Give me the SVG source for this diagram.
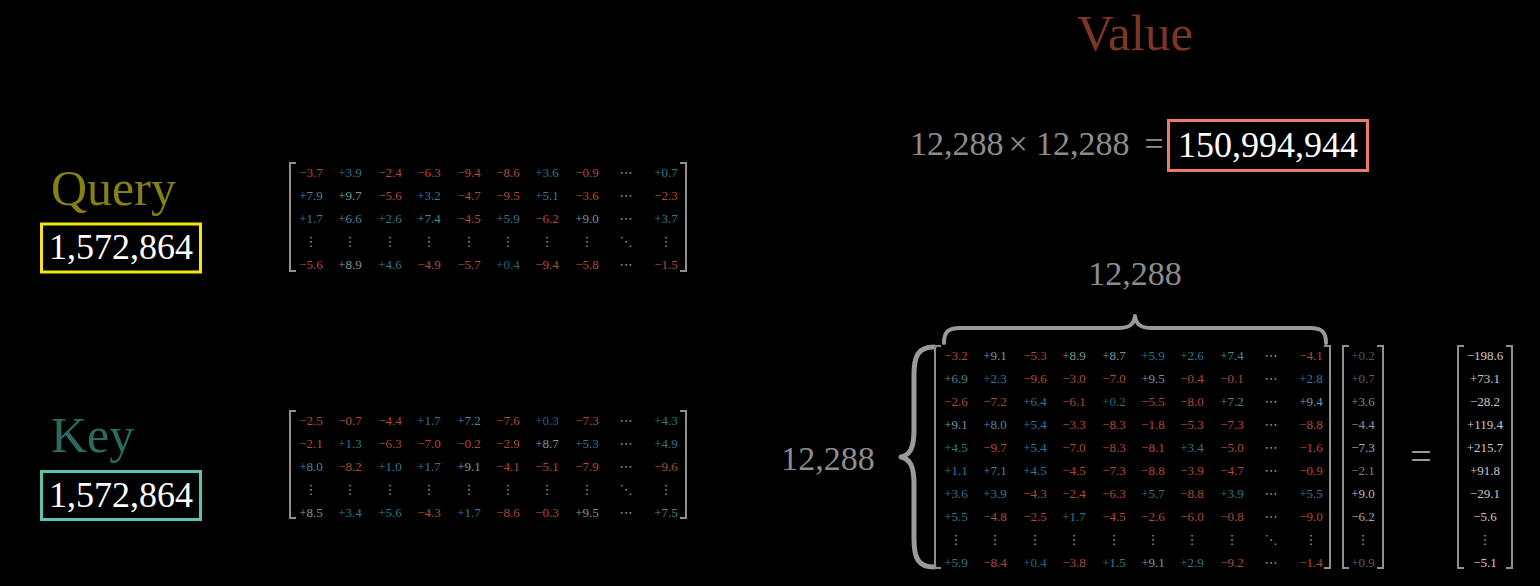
<svg xmlns="http://www.w3.org/2000/svg" width="1540" height="586" viewBox="0 0 1540 586">
<style>
text{font-family:"Liberation Serif","Times New Roman",serif}
.c text{font-size:13px;text-anchor:middle}
.n{fill:#b04a36}
.p{fill:#2d7896}
.q{fill:#4a8698}
.w{fill:#7d959c}
.d{fill:#1e6680}
.e{fill:#9a9a9a;font-family:"DejaVu Sans",sans-serif !important;font-size:15px}
.br{fill:none;stroke:#8f8f8f;stroke-width:2}
.lbl{fill:#8c8c8c;font-size:34px;text-anchor:middle}
.big{fill:#ffffff;font-size:36px;text-anchor:middle}
.eq{fill:#8c8c8c;font-size:34px}
.brace{fill:none;stroke:#9a9a9a;stroke-linecap:round;stroke-linejoin:round}
</style>
<rect width="1540" height="586" fill="#000"/>

<g id="query-label">
<text x="51" y="205" font-size="50" fill="#857f14">Query</text>
<rect x="41.5" y="224" width="159" height="48" fill="none" stroke="#f2e614" stroke-width="3"/>
<text x="121" y="259" class="big">1,572,864</text>
</g>

<g id="key-label">
<text x="51" y="452" font-size="50" fill="#2b6a5f">Key</text>
<rect x="41.5" y="471.5" width="159" height="48" fill="none" stroke="#5cc2b2" stroke-width="3"/>
<text x="121" y="507" class="big">1,572,864</text>
</g>

<g id="query-matrix" class="c">
<path class="br" d="M296,163H290V271H296"/>
<path class="br" d="M680,163H686V271H680"/>
<text x="311" y="176.5" class="n">−3.7</text><text x="350" y="176.5" class="p">+3.9</text><text x="390" y="176.5" class="n">−2.4</text><text x="429" y="176.5" class="n">−6.3</text><text x="469" y="176.5" class="n">−9.4</text><text x="508" y="176.5" class="n">−8.6</text><text x="547" y="176.5" class="p">+3.6</text><text x="587" y="176.5" class="n">−0.9</text><text x="626" y="176.5" class="e" style="text-anchor:middle">⋯</text><text x="666" y="176.5" class="p">+0.7</text>
<text x="311" y="199.5" class="q">+7.9</text><text x="350" y="199.5" class="w">+9.7</text><text x="390" y="199.5" class="n">−5.6</text><text x="429" y="199.5" class="p">+3.2</text><text x="469" y="199.5" class="n">−4.7</text><text x="508" y="199.5" class="n">−9.5</text><text x="547" y="199.5" class="p">+5.1</text><text x="587" y="199.5" class="n">−3.6</text><text x="626" y="199.5" class="e" style="text-anchor:middle">⋯</text><text x="666" y="199.5" class="n">−2.3</text>
<text x="311" y="222.5" class="p">+1.7</text><text x="350" y="222.5" class="q">+6.6</text><text x="390" y="222.5" class="p">+2.6</text><text x="429" y="222.5" class="q">+7.4</text><text x="469" y="222.5" class="n">−4.5</text><text x="508" y="222.5" class="p">+5.9</text><text x="547" y="222.5" class="n">−6.2</text><text x="587" y="222.5" class="w">+9.0</text><text x="626" y="222.5" class="e" style="text-anchor:middle">⋯</text><text x="666" y="222.5" class="p">+3.7</text>
<text x="311" y="246" class="e" style="text-anchor:middle">⋮</text><text x="350" y="246" class="e" style="text-anchor:middle">⋮</text><text x="390" y="246" class="e" style="text-anchor:middle">⋮</text><text x="429" y="246" class="e" style="text-anchor:middle">⋮</text><text x="469" y="246" class="e" style="text-anchor:middle">⋮</text><text x="508" y="246" class="e" style="text-anchor:middle">⋮</text><text x="547" y="246" class="e" style="text-anchor:middle">⋮</text><text x="587" y="246" class="e" style="text-anchor:middle">⋮</text><text x="626" y="246" class="e" style="text-anchor:middle">⋱</text><text x="666" y="246" class="e" style="text-anchor:middle">⋮</text>
<text x="311" y="268.5" class="n">−5.6</text><text x="350" y="268.5" class="w">+8.9</text><text x="390" y="268.5" class="p">+4.6</text><text x="429" y="268.5" class="n">−4.9</text><text x="469" y="268.5" class="n">−5.7</text><text x="508" y="268.5" class="d">+0.4</text><text x="547" y="268.5" class="n">−9.4</text><text x="587" y="268.5" class="n">−5.8</text><text x="626" y="268.5" class="e" style="text-anchor:middle">⋯</text><text x="666" y="268.5" class="n">−1.5</text>
</g>

<g id="key-matrix" class="c">
<path class="br" d="M296,411H290V518H296"/>
<path class="br" d="M680,411H686V518H680"/>
<text x="311" y="424.5" class="n">−2.5</text><text x="350" y="424.5" class="n">−0.7</text><text x="390" y="424.5" class="n">−4.4</text><text x="429" y="424.5" class="p">+1.7</text><text x="469" y="424.5" class="q">+7.2</text><text x="508" y="424.5" class="n">−7.6</text><text x="547" y="424.5" class="d">+0.3</text><text x="587" y="424.5" class="n">−7.3</text><text x="626" y="424.5" class="e" style="text-anchor:middle">⋯</text><text x="666" y="424.5" class="p">+4.3</text>
<text x="311" y="447.5" class="n">−2.1</text><text x="350" y="447.5" class="p">+1.3</text><text x="390" y="447.5" class="n">−6.3</text><text x="429" y="447.5" class="n">−7.0</text><text x="469" y="447.5" class="n">−0.2</text><text x="508" y="447.5" class="n">−2.9</text><text x="547" y="447.5" class="w">+8.7</text><text x="587" y="447.5" class="p">+5.3</text><text x="626" y="447.5" class="e" style="text-anchor:middle">⋯</text><text x="666" y="447.5" class="p">+4.9</text>
<text x="311" y="470.5" class="q">+8.0</text><text x="350" y="470.5" class="n">−8.2</text><text x="390" y="470.5" class="p">+1.0</text><text x="429" y="470.5" class="p">+1.7</text><text x="469" y="470.5" class="w">+9.1</text><text x="508" y="470.5" class="n">−4.1</text><text x="547" y="470.5" class="n">−5.1</text><text x="587" y="470.5" class="n">−7.9</text><text x="626" y="470.5" class="e" style="text-anchor:middle">⋯</text><text x="666" y="470.5" class="n">−9.6</text>
<text x="311" y="494" class="e" style="text-anchor:middle">⋮</text><text x="350" y="494" class="e" style="text-anchor:middle">⋮</text><text x="390" y="494" class="e" style="text-anchor:middle">⋮</text><text x="429" y="494" class="e" style="text-anchor:middle">⋮</text><text x="469" y="494" class="e" style="text-anchor:middle">⋮</text><text x="508" y="494" class="e" style="text-anchor:middle">⋮</text><text x="547" y="494" class="e" style="text-anchor:middle">⋮</text><text x="587" y="494" class="e" style="text-anchor:middle">⋮</text><text x="626" y="494" class="e" style="text-anchor:middle">⋱</text><text x="666" y="494" class="e" style="text-anchor:middle">⋮</text>
<text x="311" y="516.5" class="w">+8.5</text><text x="350" y="516.5" class="p">+3.4</text><text x="390" y="516.5" class="p">+5.6</text><text x="429" y="516.5" class="n">−4.3</text><text x="469" y="516.5" class="p">+1.7</text><text x="508" y="516.5" class="n">−8.6</text><text x="547" y="516.5" class="n">−0.3</text><text x="587" y="516.5" class="w">+9.5</text><text x="626" y="516.5" class="e" style="text-anchor:middle">⋯</text><text x="666" y="516.5" class="q">+7.5</text>
</g>

<g id="value-title">
<text x="1135" y="50" font-size="51" fill="#7d3526" text-anchor="middle">Value</text>
</g>

<g id="value-equation">
<text x="910" y="155" class="eq">12,288</text>
<text x="1018" y="155" class="eq" font-size="40" text-anchor="middle">×</text>
<text x="1036" y="155" class="eq">12,288</text>
<text x="1154" y="155" class="eq" text-anchor="middle">=</text>
<rect x="1168.5" y="120.5" width="199" height="50" fill="none" stroke="#ec7a6c" stroke-width="3"/>
<text x="1268" y="157" class="big">150,994,944</text>
</g>

<g id="connectors">
<path class="brace" stroke-width="4" d="M944,343C944,332 948,328 960,328L1118,328C1130,328 1134,324 1135,316C1136,324 1140,328 1152,328L1310,328C1322,328 1326,332 1326,343"/>
<path class="brace" stroke-width="5" d="M934,347C918,347 914,356 914,375L914,430C914,448 910,455 901,457C910,459 914,466 914,484L914,539C914,558 918,567 934,567"/>
</g>

<g id="dim-labels">
<text x="1135" y="285" class="lbl">12,288</text>
<text x="828" y="470" class="lbl">12,288</text>
</g>

<g id="value-matrix" class="c">
<path class="br" d="M941,346H935V568H941"/>
<path class="br" d="M1324,346H1330V568H1324"/>
<text x="956" y="359.5" class="n">−3.2</text><text x="995" y="359.5" class="w">+9.1</text><text x="1035" y="359.5" class="n">−5.3</text><text x="1074" y="359.5" class="w">+8.9</text><text x="1114" y="359.5" class="w">+8.7</text><text x="1153" y="359.5" class="p">+5.9</text><text x="1192" y="359.5" class="p">+2.6</text><text x="1232" y="359.5" class="q">+7.4</text><text x="1271" y="359.5" class="e" style="text-anchor:middle">⋯</text><text x="1311" y="359.5" class="n">−4.1</text>
<text x="956" y="382.5" class="q">+6.9</text><text x="995" y="382.5" class="p">+2.3</text><text x="1035" y="382.5" class="n">−9.6</text><text x="1074" y="382.5" class="n">−3.0</text><text x="1114" y="382.5" class="n">−7.0</text><text x="1153" y="382.5" class="w">+9.5</text><text x="1192" y="382.5" class="n">−0.4</text><text x="1232" y="382.5" class="n">−0.1</text><text x="1271" y="382.5" class="e" style="text-anchor:middle">⋯</text><text x="1311" y="382.5" class="p">+2.8</text>
<text x="956" y="405.5" class="n">−2.6</text><text x="995" y="405.5" class="n">−7.2</text><text x="1035" y="405.5" class="p">+6.4</text><text x="1074" y="405.5" class="n">−6.1</text><text x="1114" y="405.5" class="d">+0.2</text><text x="1153" y="405.5" class="n">−5.5</text><text x="1192" y="405.5" class="n">−8.0</text><text x="1232" y="405.5" class="q">+7.2</text><text x="1271" y="405.5" class="e" style="text-anchor:middle">⋯</text><text x="1311" y="405.5" class="w">+9.4</text>
<text x="956" y="428.5" class="w">+9.1</text><text x="995" y="428.5" class="q">+8.0</text><text x="1035" y="428.5" class="p">+5.4</text><text x="1074" y="428.5" class="n">−3.3</text><text x="1114" y="428.5" class="n">−8.3</text><text x="1153" y="428.5" class="n">−1.8</text><text x="1192" y="428.5" class="n">−5.3</text><text x="1232" y="428.5" class="n">−7.3</text><text x="1271" y="428.5" class="e" style="text-anchor:middle">⋯</text><text x="1311" y="428.5" class="n">−8.8</text>
<text x="956" y="451.5" class="p">+4.5</text><text x="995" y="451.5" class="n">−9.7</text><text x="1035" y="451.5" class="p">+5.4</text><text x="1074" y="451.5" class="n">−7.0</text><text x="1114" y="451.5" class="n">−8.3</text><text x="1153" y="451.5" class="n">−8.1</text><text x="1192" y="451.5" class="p">+3.4</text><text x="1232" y="451.5" class="n">−5.0</text><text x="1271" y="451.5" class="e" style="text-anchor:middle">⋯</text><text x="1311" y="451.5" class="n">−1.6</text>
<text x="956" y="474.5" class="p">+1.1</text><text x="995" y="474.5" class="q">+7.1</text><text x="1035" y="474.5" class="p">+4.5</text><text x="1074" y="474.5" class="n">−4.5</text><text x="1114" y="474.5" class="n">−7.3</text><text x="1153" y="474.5" class="n">−8.8</text><text x="1192" y="474.5" class="n">−3.9</text><text x="1232" y="474.5" class="n">−4.7</text><text x="1271" y="474.5" class="e" style="text-anchor:middle">⋯</text><text x="1311" y="474.5" class="n">−0.9</text>
<text x="956" y="497.5" class="p">+3.6</text><text x="995" y="497.5" class="p">+3.9</text><text x="1035" y="497.5" class="n">−4.3</text><text x="1074" y="497.5" class="n">−2.4</text><text x="1114" y="497.5" class="n">−6.3</text><text x="1153" y="497.5" class="p">+5.7</text><text x="1192" y="497.5" class="n">−8.8</text><text x="1232" y="497.5" class="p">+3.9</text><text x="1271" y="497.5" class="e" style="text-anchor:middle">⋯</text><text x="1311" y="497.5" class="p">+5.5</text>
<text x="956" y="520.5" class="p">+5.5</text><text x="995" y="520.5" class="n">−4.8</text><text x="1035" y="520.5" class="n">−2.5</text><text x="1074" y="520.5" class="p">+1.7</text><text x="1114" y="520.5" class="n">−4.5</text><text x="1153" y="520.5" class="n">−2.6</text><text x="1192" y="520.5" class="n">−6.0</text><text x="1232" y="520.5" class="n">−0.8</text><text x="1271" y="520.5" class="e" style="text-anchor:middle">⋯</text><text x="1311" y="520.5" class="n">−9.0</text>
<text x="956" y="544" class="e" style="text-anchor:middle">⋮</text><text x="995" y="544" class="e" style="text-anchor:middle">⋮</text><text x="1035" y="544" class="e" style="text-anchor:middle">⋮</text><text x="1074" y="544" class="e" style="text-anchor:middle">⋮</text><text x="1114" y="544" class="e" style="text-anchor:middle">⋮</text><text x="1153" y="544" class="e" style="text-anchor:middle">⋮</text><text x="1192" y="544" class="e" style="text-anchor:middle">⋮</text><text x="1232" y="544" class="e" style="text-anchor:middle">⋮</text><text x="1271" y="544" class="e" style="text-anchor:middle">⋱</text><text x="1311" y="544" class="e" style="text-anchor:middle">⋮</text>
<text x="956" y="566.5" class="p">+5.9</text><text x="995" y="566.5" class="n">−8.4</text><text x="1035" y="566.5" class="d">+0.4</text><text x="1074" y="566.5" class="n">−3.8</text><text x="1114" y="566.5" class="p">+1.5</text><text x="1153" y="566.5" class="w">+9.1</text><text x="1192" y="566.5" class="p">+2.9</text><text x="1232" y="566.5" class="n">−9.2</text><text x="1271" y="566.5" class="e" style="text-anchor:middle">⋯</text><text x="1311" y="566.5" class="n">−1.4</text>
</g>

<g id="input-vector" class="c">
<path class="br" d="M1349,346H1343V568H1349"/>
<path class="br" d="M1377,346H1383V568H1377"/>
<text x="1363" y="359.5" fill="#555">+0.2</text>
<text x="1363" y="382.5" fill="#5e5e5e">+0.7</text>
<text x="1363" y="405.5" fill="#8a8a8a">+3.6</text>
<text x="1363" y="428.5" fill="#8f8f8f">−4.4</text>
<text x="1363" y="451.5" fill="#aaaaaa">−7.3</text>
<text x="1363" y="474.5" fill="#808080">−2.1</text>
<text x="1363" y="497.5" fill="#bdbdbd">+9.0</text>
<text x="1363" y="520.5" fill="#a8a8a8">−6.2</text>
<text x="1363" y="544" class="e" style="text-anchor:middle">⋮</text>
<text x="1363" y="566.5" fill="#5e5e5e">+0.9</text>
</g>

<g id="equals">
<text x="1421" y="469" font-size="38" fill="#9a9a9a" text-anchor="middle">=</text>
</g>

<g id="result-vector" class="c">
<path class="br" d="M1464,346H1458V568H1464"/>
<path class="br" d="M1506,346H1512V568H1506"/>
<text x="1485" y="359.5" fill="#c8c8c8">−198.6</text>
<text x="1485" y="382.5" fill="#c8c8c8">+73.1</text>
<text x="1485" y="405.5" fill="#c8c8c8">−28.2</text>
<text x="1485" y="428.5" fill="#c8c8c8">+119.4</text>
<text x="1485" y="451.5" fill="#c8c8c8">+215.7</text>
<text x="1485" y="474.5" fill="#c8c8c8">+91.8</text>
<text x="1485" y="497.5" fill="#c8c8c8">−29.1</text>
<text x="1485" y="520.5" fill="#c8c8c8">−5.6</text>
<text x="1485" y="544" class="e" style="text-anchor:middle">⋮</text>
<text x="1485" y="566.5" fill="#c8c8c8">−5.1</text>
</g>
</svg>
